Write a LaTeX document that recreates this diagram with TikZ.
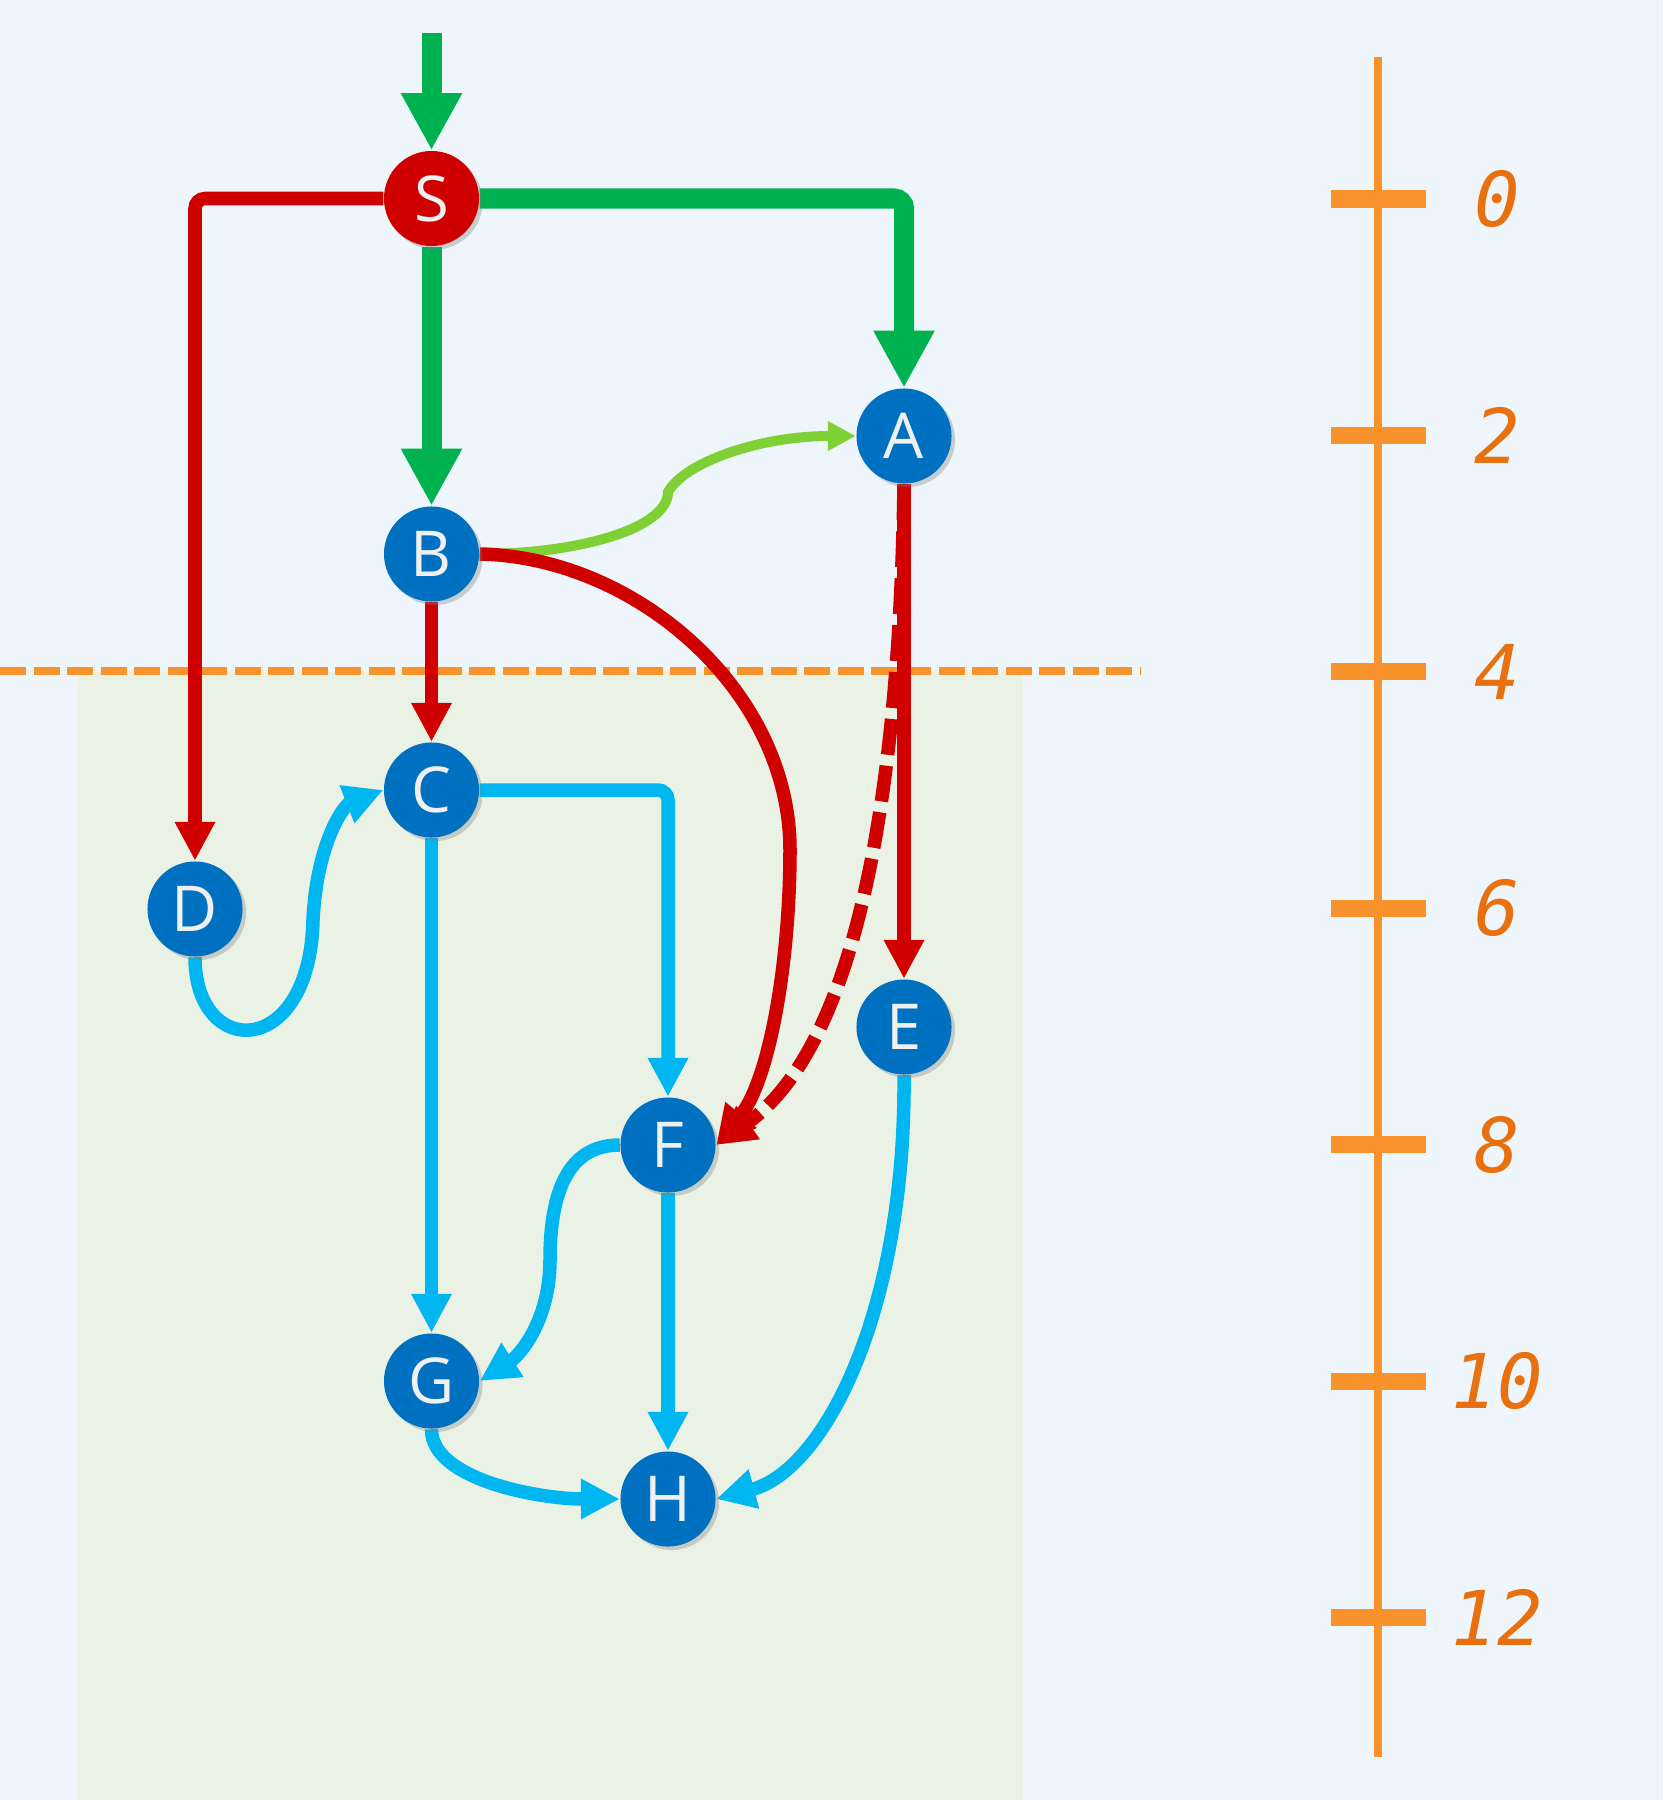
\documentclass[tikz,border=0pt]{standalone}
\usepackage{fontspec}
\usetikzlibrary{arrows.meta,shadows}
\newfontfamily\nodefont{Open Sans}
\newfontfamily\tickfont{DejaVu Sans Mono}
\definecolor{bgc}{HTML}{EEF6FC}
\definecolor{zonec}{HTML}{EAF2E6}
\definecolor{nodeblue}{HTML}{0070C0}
\definecolor{nodered}{HTML}{D10000}
\definecolor{greenc}{HTML}{00B14F}
\definecolor{lightgr}{HTML}{7FD034}
\definecolor{redc}{HTML}{D10000}
\definecolor{bluec}{HTML}{00B6F1}
\definecolor{orangec}{HTML}{F8922A}
\definecolor{ticktext}{HTML}{E8700E}
\pgfdeclarelayer{back}
\pgfdeclarelayer{edges}
\pgfsetlayers{back,edges,main}
\begin{document}
\begin{tikzpicture}[x=0.01cm,y=-0.01cm,
  vnode/.style={circle,fill=nodeblue,minimum size=0.95cm,inner sep=0pt,
    font=\nodefont\fontsize{18}{18}\selectfont,text=white!88!gray,
    drop shadow={shadow xshift=0.035cm,shadow yshift=-0.035cm,opacity=0.35}},
  snode/.style={vnode,fill=nodered},
  gline/.style={greenc,line width=0.2cm,-{Triangle[length=0.57cm,width=0.57cm]}},
  rline/.style={redc,line width=0.135cm,-{Triangle[length=0.39cm,width=0.38cm]}},
  bline/.style={bluec,line width=0.135cm,-{Triangle[length=0.39cm,width=0.38cm]}},
  lgline/.style={lightgr,line width=0.1cm,-{Triangle[length=0.28cm,width=0.28cm]}},
  axisline/.style={orangec,line width=0.085cm},
  tickmark/.style={orangec,line width=0.17cm},
  ticklabel/.style={text=ticktext,font=\tickfont\itshape\fontsize{21.5}{22}\selectfont,inner sep=0pt},
  rc/.style={rounded corners=0.1cm}
]
\useasboundingbox (0,0) rectangle (1663,1800);
\begin{pgfonlayer}{back}
  \fill[bgc] (0,0) rectangle (1663,1800);
  \fill[zonec] (78,672) rectangle (1023,1800);
  \draw[orangec,line width=0.08cm,dash pattern=on 0.26cm off 0.075cm] (0,671) -- (1140,671);
  \draw[axisline] (1378,57) -- (1378,1757);
  \foreach \v in {0,2,...,12}{
    \draw[tickmark] (1331,{199+118.2*\v}) -- (1426,{199+118.2*\v});
    \node[ticklabel] (t\v) at (1497,{199+118.2*\v}) {\v};
  }
\end{pgfonlayer}

\node[snode] (S) at (431.5,198.5) {S};
\node[vnode] (A) at (904,436) {A};
\node[vnode] (B) at (431.5,554) {B};
\node[vnode] (C) at (431.5,790) {C};
\node[vnode] (D) at (195,909) {D};
\node[vnode] (E) at (904,1027) {E};
\node[vnode] (F) at (668,1145) {F};
\node[vnode] (G) at (431.5,1381) {G};
\node[vnode] (H) at (668,1499) {H};
\coordinate (in) at (431.5,33);

\begin{pgfonlayer}{edges}
  \draw[gline] (in) -- (S);
  \draw[gline,rc] (S.east) -| (A.north);
  \draw[gline] (S) -- (B);
  \draw[rline,rc] (S.west) -| (D.north);
  \draw[lgline] (B.east) .. controls (580,554) and (668,528) .. (668,492)
        .. controls (685,462) and (760,436) .. (A.west);
  \draw[rline] (B) -- (C);
  \draw[rline] (B.east) .. controls (635,557) and (790,690) .. (790,850)
        .. controls (790,960) and (770,1080) .. (F.east);
  \draw[rline] (A) -- (E);
  \draw[rline,dash pattern=on 0.36cm off 0.11cm] (A.south) .. controls (900,760) and (865,1040) .. (F.east);
  \draw[bline,rc] (C.east) -| (F.north);
  \draw[bline] (C) -- (G);
  \draw[bline] (D.south) .. controls (195,1060) and (310,1060) .. (313,920)
        .. controls (317,840) and (345,805) .. (C.west);
  \draw[bline] (F.west) .. controls (575,1145) and (550,1180) .. (550,1260)
        .. controls (550,1320) and (520,1355) .. (G.east);
  \draw[bline] (F) -- (H);
  \draw[bline] (G.south) .. controls (431.5,1480) and (540,1499) .. (H.west);
  \draw[bline] (E.south) .. controls (906,1310) and (825,1470) .. (H.east);
\end{pgfonlayer}
\end{tikzpicture}
\end{document}
